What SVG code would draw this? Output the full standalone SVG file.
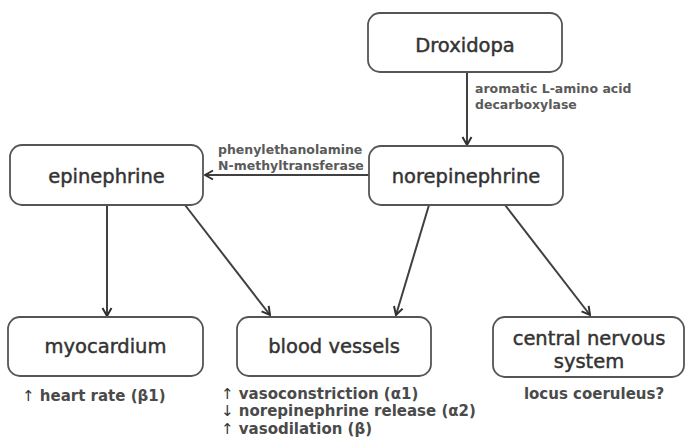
<svg xmlns="http://www.w3.org/2000/svg" width="686" height="439" viewBox="0 0 686 439">
  <style>
    .box { fill: #ffffff; stroke: #555555; stroke-width: 1.8; }
    .name { font-family: "DejaVu Sans", "Liberation Sans", sans-serif; font-size: 19.5px; fill: #333333; stroke: #333333; stroke-width: 0.45; text-anchor: middle; }
    .enz { font-family: "DejaVu Sans", "Liberation Sans", sans-serif; font-size: 12.5px; font-weight: bold; fill: #5a5a5a; }
    .effect { font-family: "DejaVu Sans", "Liberation Sans", sans-serif; font-size: 15px; font-weight: bold; fill: #4a4a4a; }
    .glyph { font-weight: normal; fill: #333333; }
    .link { fill: none; stroke: #404040; stroke-width: 2; marker-end: url(#head); }
  </style>
  <defs>
    <marker id="head" viewBox="0 0 12 12" refX="11" refY="6" markerWidth="12" markerHeight="12" markerUnits="userSpaceOnUse" orient="auto">
      <path d="M3,1.5 L11,6 L3,10.5" fill="none" stroke="#303030" stroke-width="2"/>
    </marker>
  </defs>

  <!-- connectors -->
  <g id="connectors">
    <line class="link" x1="467" y1="72" x2="467" y2="145"/>
    <line class="link" x1="369" y1="175" x2="205" y2="175"/>
    <line class="link" x1="107" y1="205" x2="107" y2="316"/>
    <line class="link" x1="185" y1="205" x2="270" y2="315"/>
    <line class="link" x1="429" y1="205" x2="396" y2="315"/>
    <line class="link" x1="505" y1="205" x2="590" y2="315"/>
  </g>

  <!-- enzyme labels -->
  <g id="enzyme-labels">
    <text class="enz" x="475" y="93">aromatic L-amino acid</text>
    <text class="enz" x="475" y="109">decarboxylase</text>
    <text class="enz" x="218" y="154">phenylethanolamine</text>
    <text class="enz" x="218" y="170">N-methyltransferase</text>
  </g>

  <g id="droxidopa">
    <rect class="box" x="368" y="13" width="194" height="59" rx="12"/>
    <text class="name" x="465" y="52">Droxidopa</text>
  </g>

  <g id="norepinephrine">
    <rect class="box" x="369" y="146" width="194" height="59" rx="12"/>
    <text class="name" x="466" y="183">norepinephrine</text>
  </g>

  <g id="epinephrine">
    <rect class="box" x="10" y="145" width="193" height="60" rx="12"/>
    <text class="name" x="106.5" y="183">epinephrine</text>
  </g>

  <g id="myocardium">
    <rect class="box" x="8" y="317" width="195" height="59" rx="12"/>
    <text class="name" x="105.5" y="353">myocardium</text>
    <text class="effect" x="22" y="401"><tspan class="glyph">↑</tspan> heart rate (β1)</text>
  </g>

  <g id="blood-vessels">
    <rect class="box" x="237" y="317" width="194" height="59" rx="12"/>
    <text class="name" x="334" y="353">blood vessels</text>
    <text class="effect" x="221" y="399"><tspan class="glyph">↑</tspan>  vasoconstriction (α1)</text>
    <text class="effect" x="221" y="416"><tspan class="glyph">↓</tspan>  norepinephrine release (α2)</text>
    <text class="effect" x="221" y="434"><tspan class="glyph">↑</tspan>  vasodilation (β)</text>
  </g>

  <g id="central-nervous-system">
    <rect class="box" x="493" y="317" width="191" height="60" rx="12"/>
    <text class="name" x="589" y="345">central nervous</text>
    <text class="name" x="589" y="368">system</text>
    <text class="effect" x="594" y="399" text-anchor="middle">locus coeruleus?</text>
  </g>
</svg>
